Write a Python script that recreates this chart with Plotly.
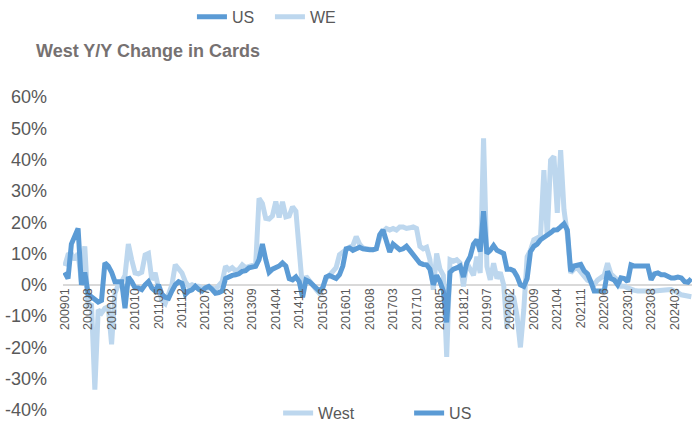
import plotly.graph_objects as go

# Monthly categories 200901 .. 202408
years = list(range(2009, 2025))
months = [f"{y}{m:02d}" for y in years for m in range(1, 13)][:188]

us_2009 = [4, 2, 13, 16, 18, 0, 4, -3, -4, -5, -5.5, -5]
us_2010 = [7, 6, 4, 1, 1, 1, -7.5, 2.5, 1, -1, -1, -1.5]
us_2011 = [0, 1, -1, -2, 0, -3, -4, -4.3, -2, 0, 1, 0.5]
us_2012 = [-3, -2, -1.6, -0.5, -1.5, -2, -1, -0.5, -1.5, -2.7, -2.5, -2]
us_2013 = [2, 2.7, 3, 3.2, 3.5, 4.3, 4.5, 5.4, 5.5, 5.9, 8, 13]
us_2014 = [8, 4, 5, 5.4, 6, 7, 6, 2, 1.6, 2.5, 1, -4]
us_2015 = [1.5, 1, 0, -1, -2, -1, 2.5, 3, 2.7, 2, 3.2, 6]
us_2016 = [11.5, 11.8, 11, 11.5, 12, 11.5, 11.2, 11.2, 11.2, 11.5, 16, 17.5]
us_2017 = [14, 10.5, 13, 12, 11.2, 11.5, 12.3, 11, 9.6, 8, 6.9, 6.5]
us_2018 = [6.4, 5, 0, 3, 1, -2, -12, 4, 5, 5.4, 6, 2.5]
us_2019 = [7, 9, 13, 14.4, 10.6, 23.5, 10, 11, 12.5, 11, 10.5, 10]
us_2020 = [5, 5, 4.5, 2.7, 0, -0.5, 2, 10.6, 12.3, 13, 14.4, 15]
us_2021 = [16, 16.6, 17.5, 17.6, 18.5, 19.5, 17.5, 4.3, 6, 6.4, 6.5, 4.5]
us_2022 = [3.5, 1, -2, -2, -2, -2, 4.3, 2, 1.5, 0, 2.2, 2]
us_2023 = [1, 6.4, 6, 6, 5.9, 6, 6, 1.6, 3.5, 3.8, 3.2, 3.2]
us_2024 = [2.5, 2.2, 2.2, 2.5, 2.2, 1, 0.8, 2]

we_2009 = [6, 9.6, 10, 8, 10, 1, 12.3, -7, -6, -33.5, -8, -9]
we_2010 = [-7.5, -7, -19, -2.7, 0, 1, 3, 13, 8, 3.8, 3.5, 4]
we_2011 = [9.5, 10, 1.6, 3.8, -1, -5, -6, -3, 0, 6.4, 5, 3.8]
we_2012 = [1, -0.5, 0, -0.5, -0.5, -1, -1, -1, -1, -1.5, -0.5, 1]
we_2013 = [5.9, 4.8, 5.5, 4.5, 5, 6.4, 5.5, 6, 6.2, 6.5, 27.6, 26]
we_2014 = [21.2, 21, 22, 26.6, 21.5, 26.5, 21.7, 22, 24.9, 23.5, 10, -1.6]
we_2015 = [2.7, 1.5, 0, -1.5, -2.7, -1, 2, 3, 4, 5.5, 9.6, 10.5]
we_2016 = [11.2, 12, 12.5, 15.4, 13, 11.8, 11.5, 11.2, 11.2, 11.5, 15, 17]
we_2017 = [18, 17.5, 18, 17.5, 18.5, 18.5, 18, 18.2, 18.5, 18, 12.3, 11.5]
we_2018 = [12, 8, -1.6, 10, 5, 3, -23, 8, 7.5, 8, 7, -0.5]
we_2019 = [7, 5, 3, 9, 3.8, 46.8, 5.9, 1.6, 6.9, 2, 4, 0]
we_2020 = [-14, -3, -4, -10, -20, -8, 9, 11, 14.4, 15, 15.5, 36.6]
we_2021 = [15.5, 39.8, 41, 23, 43, 24, 16, 3.8, 5, 5.4, 4, 3]
we_2022 = [1.5, 1, 0, 1.5, 2.5, 3, 6.9, 3.5, 2.5, 1.5, -0.5, -0.5]
we_2023 = [-1, -1.5, -1.8, -2, -2.1, -2.1, -2.1, -2, -2, -1.8, -1.7, -1.6]
we_2024 = [-1.6, -1.5, -1.8, -2.5, -3.2, -3.5, -3.7, -3.8]

us = (us_2009 + us_2010 + us_2011 + us_2012 + us_2013 + us_2014 + us_2015 + us_2016
      + us_2017 + us_2018 + us_2019 + us_2020 + us_2021 + us_2022 + us_2023 + us_2024)
we = (we_2009 + we_2010 + we_2011 + we_2012 + we_2013 + we_2014 + we_2015 + we_2016
      + we_2017 + we_2018 + we_2019 + we_2020 + we_2021 + we_2022 + we_2023 + we_2024)

tick_labels = months[::7]
y_ticks = [-40, -30, -20, -10, 0, 10, 20, 30, 40, 50, 60]

DARK = "#5B9BD5"
LIGHT = "#BDD7EE"
GRAY = "#595959"
FONT = "Liberation Sans, Arial, sans-serif"

fig = go.Figure()
# data traces (bottom legend)
fig.add_trace(go.Scatter(x=months, y=we, mode="lines", name="West",
                         line=dict(color=LIGHT, width=5), legend="legend2"))
fig.add_trace(go.Scatter(x=months, y=us, mode="lines", name="US",
                         line=dict(color=DARK, width=5), legend="legend2"))
# top legend entries
fig.add_trace(go.Scatter(x=[None], y=[None], mode="lines", name="US",
                         line=dict(color=DARK, width=5), legend="legend"))
fig.add_trace(go.Scatter(x=[None], y=[None], mode="lines", name="WE",
                         line=dict(color=LIGHT, width=5), legend="legend"))

fig.update_layout(
    width=692, height=421,
    margin=dict(l=63, r=0, t=97, b=11, autoexpand=False),
    paper_bgcolor="white", plot_bgcolor="white",
    font=dict(family=FONT, color=GRAY),
    title=dict(text="<b>West Y/Y Change in Cards</b>", xref="container", x=36/692,
               xanchor="left", yref="container", y=1-51/421, yanchor="middle",
               font=dict(family=FONT, size=18, color="#767171")),
    xaxis=dict(type="category", range=[-0.5, 187.2], anchor="free", position=0.4,
               tickmode="array", tickvals=tick_labels, ticktext=tick_labels,
               tickangle=-90, showgrid=False, showline=False, zeroline=False,
               ticks="", tickfont=dict(size=12.5, color=GRAY), automargin=False),
    yaxis=dict(range=[-40, 60], tickmode="array", tickvals=y_ticks,
               ticktext=[f"{v}%" for v in y_ticks], showgrid=False,
               zeroline=True, zerolinecolor="#D9D9D9", zerolinewidth=2,
               showline=False, ticks="", ticklabelstandoff=15,
               tickfont=dict(size=18, color=GRAY), automargin=False),
    legend=dict(orientation="h", x=0.205, xanchor="left", y=1.256, yanchor="middle",
                entrywidth=33, entrywidthmode="pixels",
                font=dict(size=16, color=GRAY), bgcolor="rgba(0,0,0,0)"),
    legend2=dict(orientation="h", x=0.342, xanchor="left", y=-0.01, yanchor="middle",
                 entrywidth=86, entrywidthmode="pixels",
                 font=dict(size=16, color=GRAY), bgcolor="rgba(0,0,0,0)"),
    showlegend=True,
)

fig.write_html("out.html", config={"displayModeBar": False},
               post_script="document.body.style.margin='0px';")
